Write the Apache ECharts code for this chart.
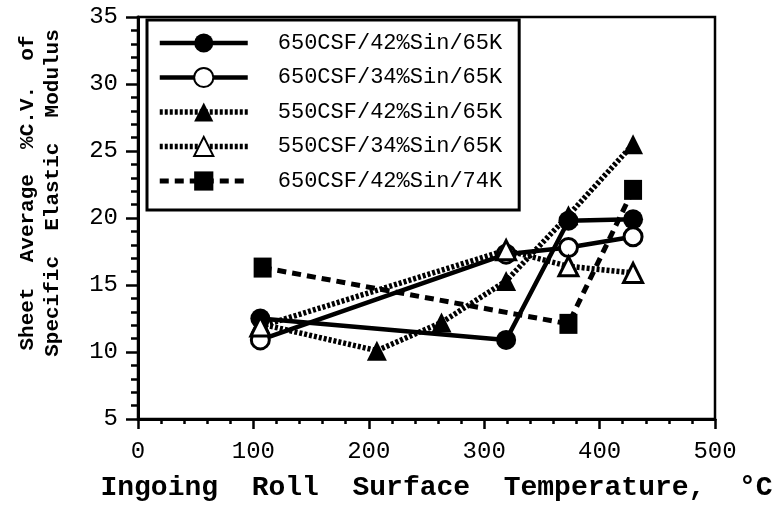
<!DOCTYPE html>
<html>
<head>
<meta charset="utf-8">
<script src="https://cdn.jsdelivr.net/npm/echarts@6/dist/echarts.min.js"></script>
<style>html,body{margin:0;padding:0;background:#fff;}#c{width:777px;height:507px;}</style>
</head>
<body>
<div id="c"></div>
<script>
const seriesNames = ['650CSF/42%Sin/65K','650CSF/34%Sin/65K','550CSF/42%Sin/65K','550CSF/34%Sin/65K','650CSF/42%Sin/74K'];
const s650_42_65 = [[106,12.5],[319,10.9],[373,19.8],[429,19.9]];
const s650_34_65 = [[106,10.9],[319,17.3],[373,17.8],[429,18.6]];
const s550_42_65 = [[106,12.1],[207,10.1],[263,12.2],[319,15.3],[373,20.2],[429,25.5]];
const s550_34_65 = [[106,11.9],[319,17.6],[373,16.4],[429,15.9]];
const s650_42_74 = [[108,16.3],[373,12.1],[429,22.1]];
const xTitle = 'Ingoing  Roll  Surface  Temperature,  °C';
const yTitle = 'Sheet  Average  %C.V.  of\nSpecific  Elastic  Modulus';

const chart = echarts.init(document.getElementById('c'), null, {renderer:'canvas'});
const mono = 'Liberation Mono';
function mk(name, data, opts){
  return Object.assign({
    name: name, type: 'line', data: data,
    symbolSize: 20,
    lineStyle: {color:'#000', width: 4.5, type: 'solid'},
    itemStyle: {color:'#000', borderColor:'#000', borderWidth: 0},
    z: 3
  }, opts);
}
chart.setOption({
  animation: false,
  backgroundColor: '#fff',
  grid: {left: 138, right: 62, top: 17, bottom: 85, show: true, borderColor: '#000', borderWidth: 2.5, backgroundColor: 'transparent'},
  xAxis: {
    type: 'value', min: 0, max: 500, interval: 100,
    axisLine: {lineStyle: {color:'#000', width: 3}},
    axisTick: {show: true, inside: false, length: 10, lineStyle: {color:'#000', width: 2.5}},
    minorTick: {show: true, splitNumber: 5, length: 5, lineStyle: {color:'#000', width: 2.5}},
    splitLine: {show: false},
    axisLabel: {color:'#000', fontFamily: mono, fontSize: 24, margin: 21},
    name: xTitle, nameLocation: 'middle', nameGap: 55,
    nameTextStyle: {color:'#000', fontFamily: mono, fontWeight: 'bold', fontSize: 28, padding: [0,0,0,20]}
  },
  yAxis: {
    type: 'value', min: 5, max: 35, interval: 5,
    axisLine: {lineStyle: {color:'#000', width: 3}},
    axisTick: {show: true, inside: false, length: 12, lineStyle: {color:'#000', width: 2.5}},
    minorTick: {show: true, splitNumber: 5, length: 7, lineStyle: {color:'#000', width: 2.5}},
    splitLine: {show: false},
    axisLabel: {color:'#000', fontFamily: mono, fontSize: 24, margin: 20},
    name: yTitle, nameLocation: 'middle', nameRotate: 90, nameGap: 73,
    nameTextStyle: {color:'#000', fontFamily: mono, fontWeight: 'bold', fontSize: 21, lineHeight: 25, padding: [0,0,0,50]}
  },
  legend: {
    orient: 'vertical', left: 147, top: 20,
    backgroundColor: '#fff', borderColor: '#000', borderWidth: 3,
    padding: [12, 17, 18, 10],
    itemWidth: 88, itemHeight: 24, itemGap: 12.5,
    lineStyle: {width: 'inherit', type: 'inherit'},
    textStyle: {color:'#000', fontFamily: mono, fontSize: 22, padding: [0,0,0,25]},
    data: seriesNames
  },
  series: [
    mk(seriesNames[0], s650_42_65, {symbol:'circle', symbolSize: 20}),
    mk(seriesNames[1], s650_34_65, {symbol:'circle', symbolSize: 18, itemStyle:{color:'#fff', borderColor:'#000', borderWidth:3}}),
    mk(seriesNames[2], s550_42_65, {symbol:'triangle', symbolSize: 20, lineStyle:{color:'#000', width:5.5, type:[3,2]}}),
    mk(seriesNames[3], s550_34_65, {symbol:'triangle', symbolSize: 19, lineStyle:{color:'#000', width:5.5, type:[3,2]}, itemStyle:{color:'#fff', borderColor:'#000', borderWidth:3}}),
    mk(seriesNames[4], s650_42_74, {symbol:'rect', symbolSize: [18,20], lineStyle:{color:'#000', width:5, type:[9,6]}})
  ]
});
</script>
</body>
</html>
